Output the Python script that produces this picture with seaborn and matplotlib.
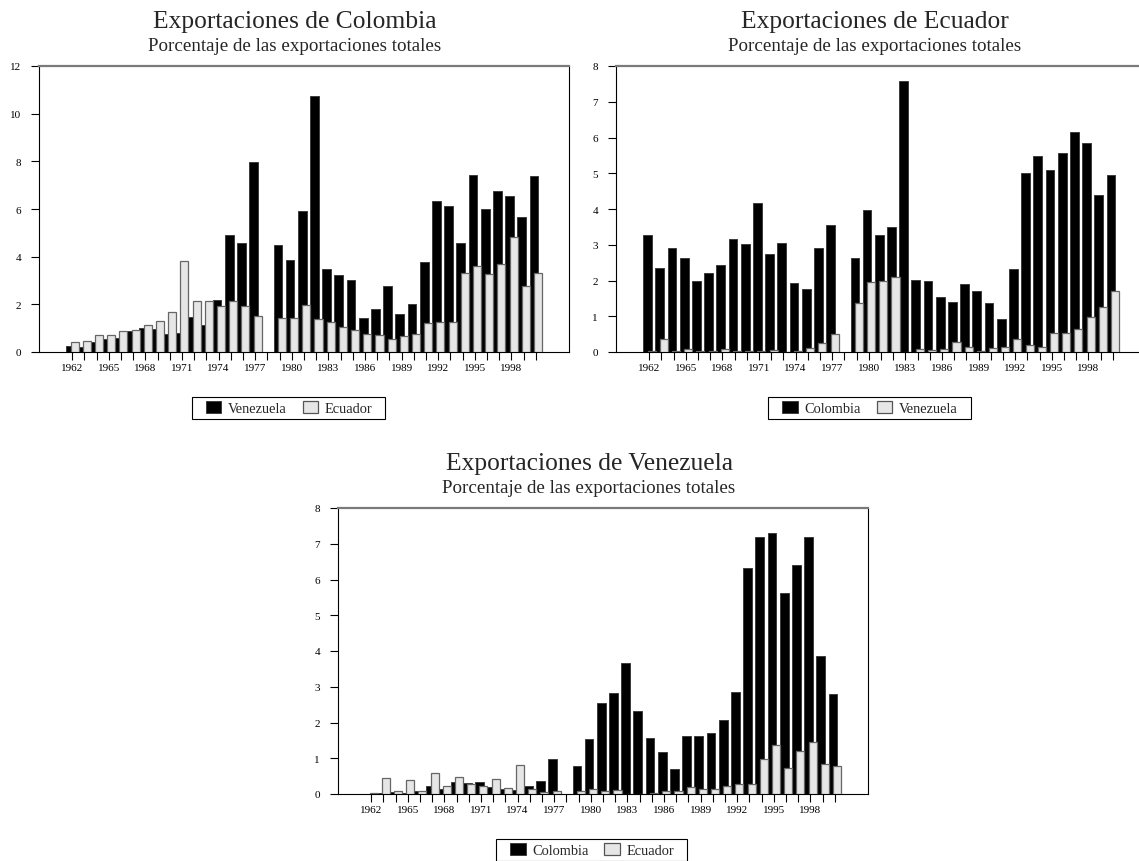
import numpy as np
import pandas as pd
import matplotlib
matplotlib.use("Agg")
import matplotlib.pyplot as plt
import seaborn as sns
from matplotlib.patches import Patch, Rectangle

nan = np.nan
years = list(range(1962, 2001))
label_years = list(range(1962, 2001, 3))

# Exportaciones de Colombia (% of total exports)
col_venezuela = [0.24, 0.20, 0.40, 0.56, 0.60, 0.89, 1.00, 0.98, 0.74, 0.81, 1.45, 1.12, 2.18, 4.90, 4.59, 7.97,
                 nan, 4.49, 3.87, 5.93, 10.73, 3.50, 3.22, 3.01, 1.42, 1.81, 2.79, 1.59, 2.01, 3.77, 6.35, 6.13,
                 4.56, 7.44, 6.00, 6.77, 6.53, 5.66, 7.40]
col_ecuador = [0.40, 0.46, 0.70, 0.73, 0.88, 0.92, 1.12, 1.28, 1.67, 3.81, 2.15, 2.12, 1.95, 2.13, 1.94, 1.53,
               nan, 1.42, 1.44, 1.98, 1.40, 1.27, 1.06, 0.92, 0.75, 0.70, 0.56, 0.67, 0.75, 1.20, 1.27, 1.24,
               3.33, 3.59, 3.27, 3.71, 4.84, 2.75, 3.31]

# Exportaciones de Ecuador
ecu_colombia = [3.28, 2.34, 2.92, 2.62, 1.99, 2.20, 2.44, 3.15, 3.02, 4.18, 2.74, 3.06, 1.92, 1.75, 2.92, 3.55,
                nan, 2.62, 3.97, 3.28, 3.50, 7.59, 2.02, 1.98, 1.55, 1.39, 1.90, 1.71, 1.38, 0.92, 2.33, 5.00,
                5.47, 5.10, 5.57, 6.15, 5.86, 4.40, 4.95]
ecu_venezuela = [0.02, 0.36, 0.03, 0.08, 0.02, 0.03, 0.09, 0.02, 0.02, 0.03, 0.05, 0.01, 0.04, 0.12, 0.24, 0.49,
                 nan, 1.37, 1.96, 1.99, 2.11, 0.00, 0.07, 0.06, 0.07, 0.28, 0.14, 0.04, 0.10, 0.14, 0.35, 0.20,
                 0.14, 0.53, 0.54, 0.65, 0.99, 1.27, 1.70]

# Exportaciones de Venezuela
ven_colombia = [0.00, 0.02, 0.06, 0.03, 0.07, 0.21, 0.15, 0.34, 0.31, 0.34, 0.20, 0.14, 0.12, 0.21, 0.37, 0.99,
                nan, 0.77, 1.55, 2.55, 2.83, 3.67, 2.33, 1.57, 1.18, 0.69, 1.63, 1.61, 1.71, 2.07, 2.85, 6.32,
                7.19, 7.30, 5.61, 6.41, 7.18, 3.87, 2.80]
ven_ecuador = [0.02, 0.45, 0.08, 0.39, 0.08, 0.59, 0.22, 0.48, 0.28, 0.22, 0.43, 0.16, 0.80, 0.14, 0.05, 0.07,
               nan, 0.07, 0.15, 0.07, 0.11, 0.00, 0.01, 0.02, 0.07, 0.07, 0.19, 0.13, 0.15, 0.23, 0.27, 0.28,
               0.98, 1.36, 0.72, 1.19, 1.46, 0.84, 0.79]

subtitle = "Porcentaje de las exportaciones totales"

sns.set_style("ticks")
plt.rcParams["font.family"] = ["Liberation Serif", "DejaVu Serif"]

W, H = 1139, 862
fig = plt.figure(figsize=(W / 100, H / 100), dpi=100)

DARK = "#000000"
LIGHT = "#e6e6e6"
legends = []


def panel(left_px, top_px, title, dark_name, dark_vals, light_name, light_vals, ymax, ystep, title_cx, leg_cx):
    width_px, height_px = 530, 286
    ax = fig.add_axes([left_px / W, 1 - (top_px + height_px) / H, width_px / W, height_px / H])
    df = pd.DataFrame({"year": years, "dark": dark_vals, "light": light_vals})
    d = df.dropna(subset=["dark"])
    l = df.dropna(subset=["light"])
    sns.barplot(x=d["year"] - 0.14, y=d["dark"], native_scale=True, width=0.72, color=DARK,
                saturation=1, edgecolor="#3c3c3c", linewidth=0.7, errorbar=None, ax=ax, zorder=2)
    sns.barplot(x=l["year"] + 0.19, y=l["light"], native_scale=True, width=0.66, color=LIGHT,
                saturation=1, edgecolor="#666666", linewidth=0.9, errorbar=None, ax=ax, zorder=3)
    ax.set_xlim(1959.27, 2002.73)
    ax.set_ylim(0, ymax)
    ax.set_xticks(years)
    ax.set_xticklabels([str(y) if y in label_years else "" for y in years])
    yt = np.arange(0, ymax + 0.001, ystep)
    ax.set_yticks(yt)
    ax.set_yticklabels([str(int(v)) for v in yt])
    ax.set_xlabel("")
    ax.set_ylabel("")
    ax.tick_params(axis="x", length=6, width=0.8, pad=2, labelsize=8, colors="black")
    ax.tick_params(axis="y", length=6, width=0.8, pad=7, labelsize=8, colors="black")
    for s in ["left", "bottom", "right"]:
        ax.spines[s].set_visible(True)
        ax.spines[s].set_color("black")
        ax.spines[s].set_linewidth(0.8)
    ax.spines["top"].set_visible(True)
    ax.spines["top"].set_color("#7a7a7a")
    ax.spines["top"].set_linewidth(1.6)
    ax.grid(False)

    fig.text(title_cx / W, 1 - (top_px - 39) / H, title, ha="center", va="baseline", fontsize=18.4)
    fig.text(title_cx / W, 1 - (top_px - 16) / H, subtitle, ha="center", va="baseline", fontsize=13.7)

    handles = [Patch(facecolor=DARK, edgecolor="#3c3c3c", linewidth=0.7),
               Patch(facecolor=LIGHT, edgecolor="#555555", linewidth=0.9)]
    box_top = top_px + height_px + 45
    leg = fig.legend(handles, [dark_name, light_name], ncol=2, loc="center",
                     bbox_to_anchor=(leg_cx / W, 1 - (box_top + 11) / H),
                     frameon=False, handlelength=1.08, handleheight=0.85, handletextpad=0.45,
                     columnspacing=1.1, borderpad=0, borderaxespad=0, fontsize=10.4)
    legends.append((leg, box_top))
    return ax


panel(39, 67, "Exportaciones de Colombia", "Venezuela", col_venezuela, "Ecuador", col_ecuador,
      12, 2, 295, 289)
panel(616, 67, "Exportaciones de Ecuador", "Colombia", ecu_colombia, "Venezuela", ecu_venezuela,
      8, 1, 875, 870)
panel(338, 509, "Exportaciones de Venezuela", "Colombia", ven_colombia, "Ecuador", ven_ecuador,
      8, 1, 589, 592)

# frame around each legend, wider than its content (as in the original)
fig.canvas.draw()
for leg, box_top in legends:
    bb = leg.get_window_extent()
    x0 = bb.x0 - 14
    wdt = bb.width + 27
    rect = Rectangle((x0 / W, 1 - (box_top + 22) / H), wdt / W, 22 / H, transform=fig.transFigure,
                     facecolor="none", edgecolor="black", linewidth=0.8)
    fig.patches.append(rect)

fig.savefig("out.png", dpi=100)
